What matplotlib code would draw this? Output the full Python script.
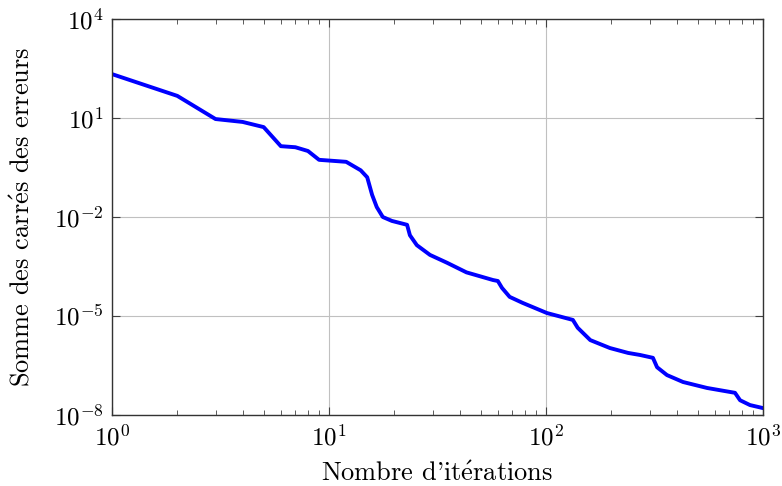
import matplotlib
matplotlib.use("Agg")
import matplotlib.pyplot as plt
import matplotlib.ticker as mticker

plt.rcParams['mathtext.fontset'] = 'cm'
plt.rcParams['font.family'] = ['cmr10', 'DejaVu Serif']
plt.rcParams['axes.formatter.use_mathtext'] = True

# itérations / erreur
iterations = [1, 2, 3, 4, 5, 6, 7, 8, 9, 12, 14, 15, 15.8, 16.6, 17.7, 19.5,
              22.9, 23.6, 25.4, 29.2, 35, 43, 57, 60, 62.7, 68, 78, 101, 133,
              140, 160, 197, 239, 271, 311, 325, 361, 428, 552, 743, 784, 871,
              1000]
erreurs = [214, 46.8, 9.3, 7.6, 5.3, 1.4, 1.3, 1.0, 0.54, 0.47, 0.26, 0.16,
           0.047, 0.020, 0.010, 0.0076, 0.0058, 0.0028, 0.0014, 7.1e-4, 4.1e-4,
           2.1e-4, 1.23e-4, 1.15e-4, 7.1e-5, 3.8e-5, 2.5e-5, 1.23e-5, 7.6e-6,
           4.4e-6, 1.86e-6, 1.07e-6, 7.6e-7, 6.6e-7, 5.4e-7, 2.8e-7, 1.62e-7,
           1.0e-7, 6.6e-8, 4.7e-8, 2.8e-8, 2.0e-8, 1.62e-8]

fig = plt.figure(figsize=(7.82, 4.86), dpi=100)
ax = fig.add_axes([0.1432, 0.1461, 0.8325, 0.8148])

ax.plot(iterations, erreurs, color='#0000ff', linewidth=2.8)
ax.set_xscale('log')
ax.set_yscale('log')
ax.set_xlim(1, 1000)
ax.set_ylim(1e-8, 1e4)

ax.set_yticks([1e-8, 1e-5, 1e-2, 1e1, 1e4])
ax.yaxis.set_minor_locator(mticker.NullLocator())
ax.xaxis.set_major_locator(mticker.LogLocator(base=10))
ax.xaxis.set_minor_locator(mticker.LogLocator(base=10, subs=range(2, 10)))
ax.xaxis.set_minor_formatter(mticker.NullFormatter())

ax.grid(True, which='major', color='#c0c0c0', linewidth=0.8)
ax.tick_params(which='both', direction='in', top=True, right=True,
               labelsize=18, colors='#404040', labelcolor='black')
ax.tick_params(which='major', length=6, width=0.8)
ax.tick_params(which='minor', length=3.5, width=0.6)
ax.tick_params(axis='x', pad=7)
ax.tick_params(axis='y', pad=6)
for s in ax.spines.values():
    s.set_color('#333333')
    s.set_linewidth(1.0)

ax.set_xlabel(r"Nombre d'it$\mathrm{\acute{e}}$rations", fontsize=19, labelpad=8)
ax.set_ylabel(r"Somme des carr$\mathrm{\acute{e}}$s des erreurs", fontsize=19, labelpad=14)

fig.savefig("out.png", dpi=100)
